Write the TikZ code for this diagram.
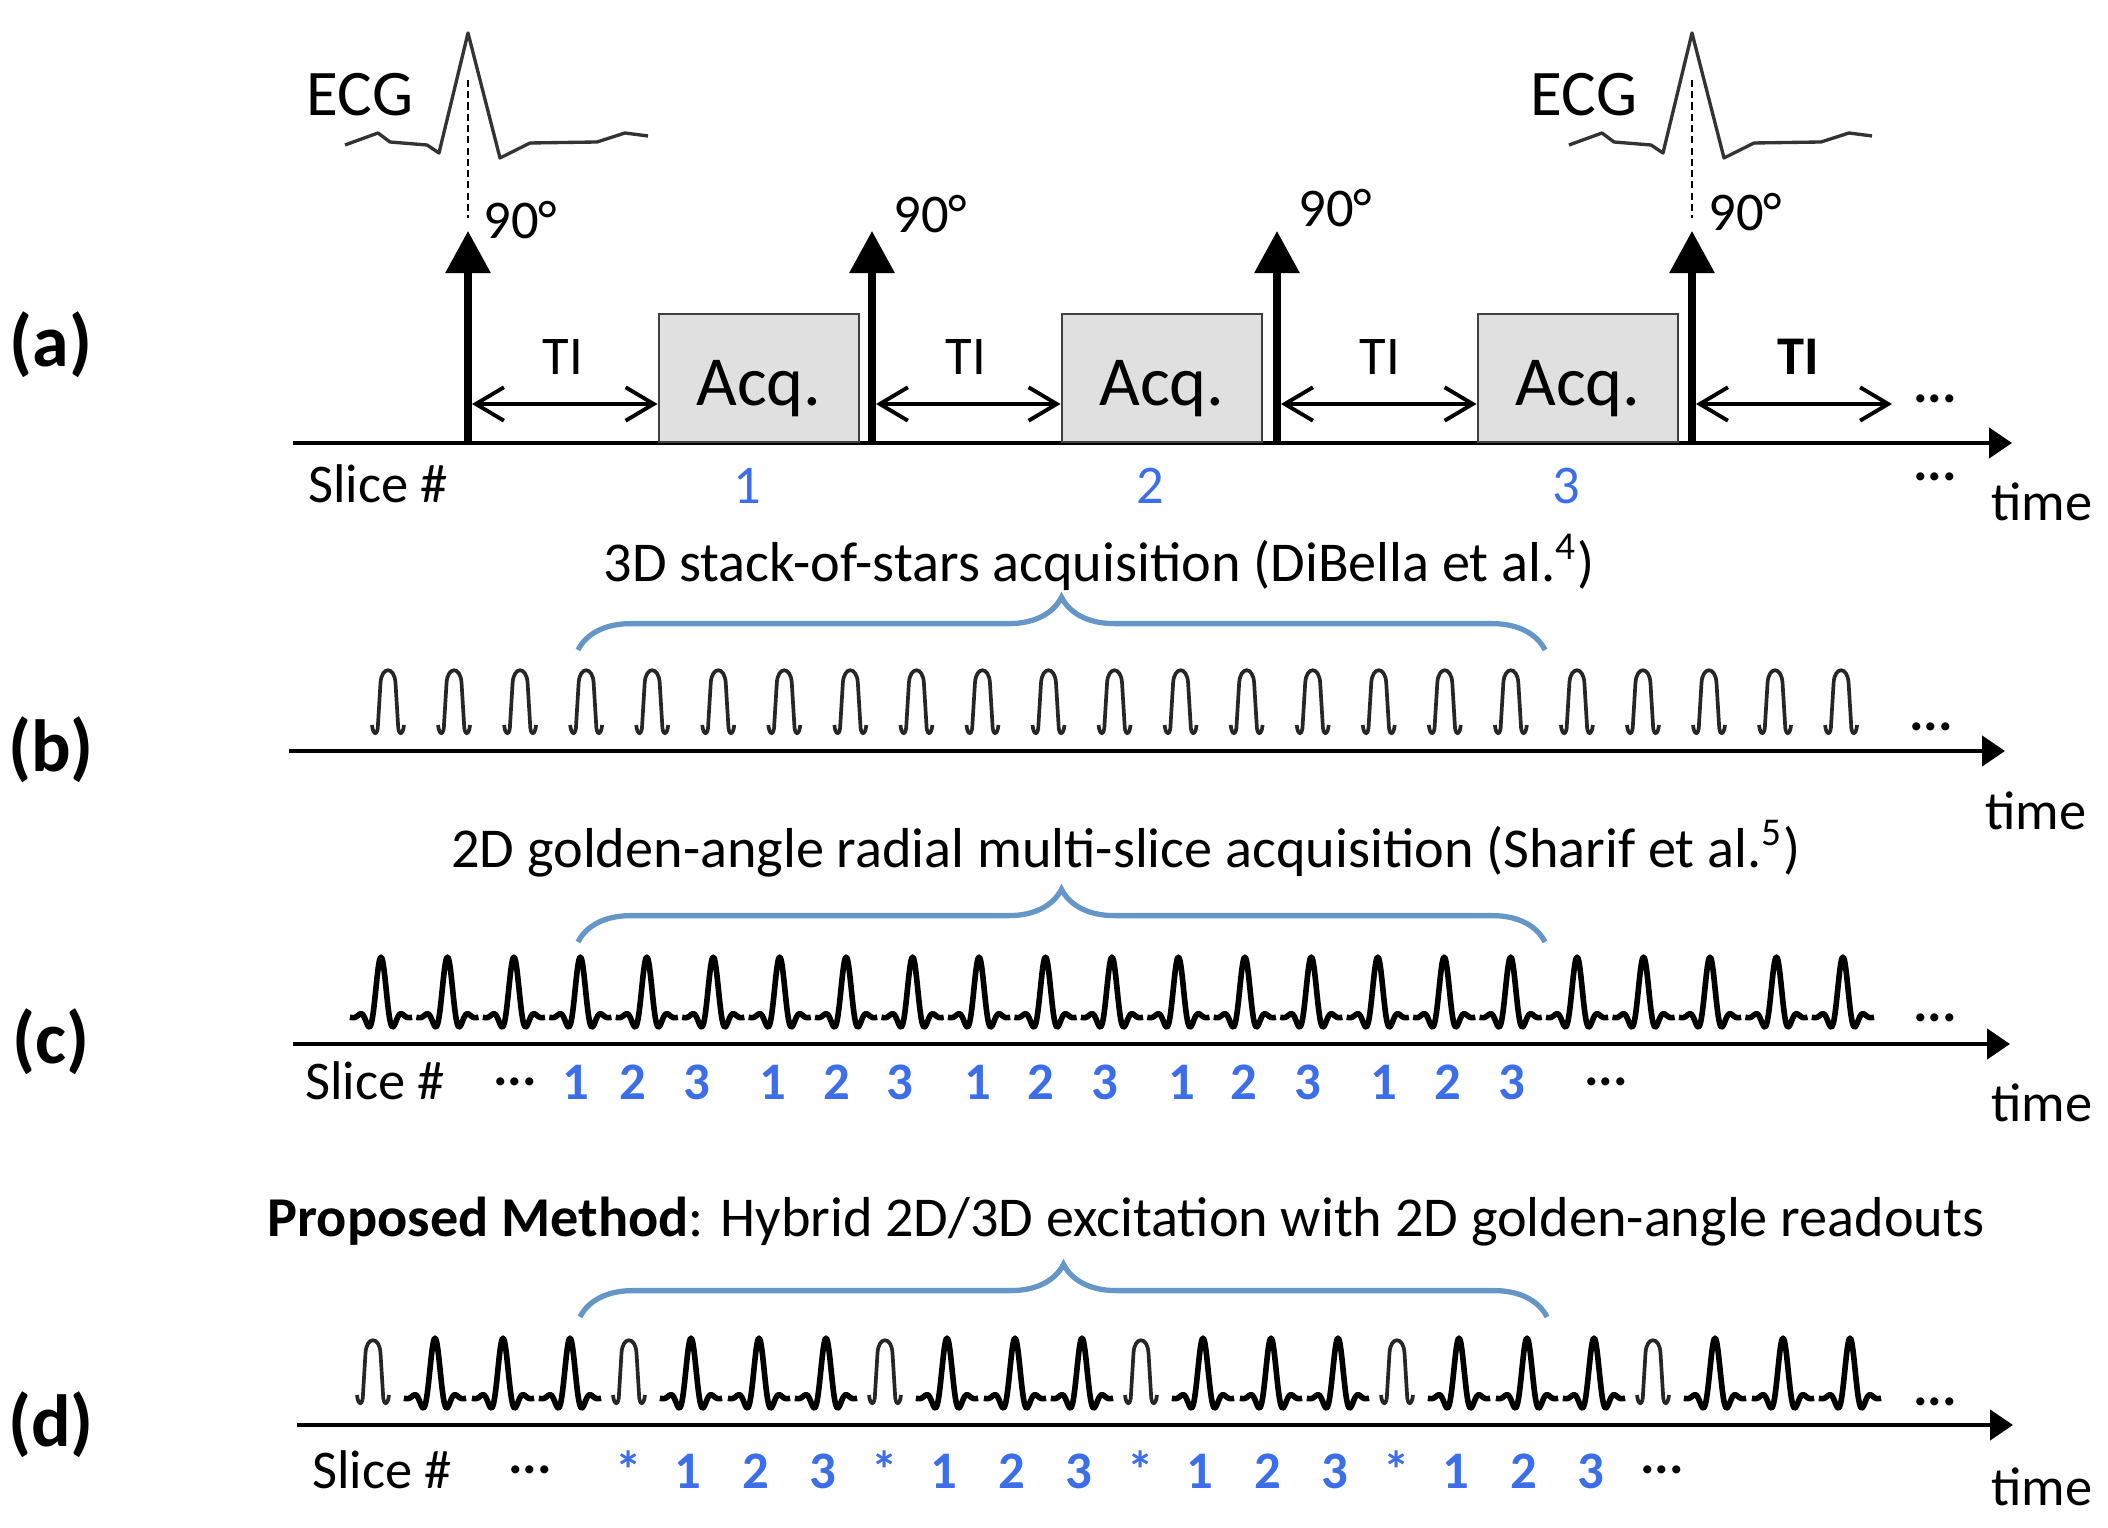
\documentclass[tikz,border=0pt]{standalone}
\usepackage{fontspec}
\setmainfont{Carlito}
\usetikzlibrary{arrows.meta,positioning,decorations.pathreplacing}
\definecolor{slice}{RGB}{60,110,235}
\definecolor{bracecol}{RGB}{100,150,200}
\definecolor{acqfill}{RGB}{224,224,224}

\begin{document}
\begin{tikzpicture}[x=0.01cm,y=-0.01cm,
    lbl/.style={font=\fontsize{15.5}{18}\selectfont,inner sep=0pt},
    head/.style={font=\fontsize{16}{18}\selectfont,inner sep=0pt,anchor=base},
    num/.style={lbl,text=slice},
    bnum/.style={inner sep=0pt,text=slice,font=\fontsize{15}{18}\selectfont\bfseries},
    panel/.style={inner sep=0pt,font=\fontsize{21}{24}\selectfont\bfseries},
    dots/.style={inner sep=0pt,font=\fontsize{15.5}{18}\selectfont\bfseries},
    ecglbl/.style={inner sep=0pt,font=\fontsize{18.5}{20}\selectfont},
    acqbox/.style={draw=black!75,fill=acqfill,line width=0.8pt,minimum width=2cm,minimum height=1.28cm,inner sep=0pt},
    acqlbl/.style={inner sep=0pt,font=\fontsize{20}{24}\selectfont},
    axis/.style={line width=1.2pt,-{Triangle[length=6.5pt,width=8.5pt]}},
    rf/.style={line width=2pt,-{Triangle[length=12pt,width=12.5pt]}},
    tiarrow/.style={line width=1.1pt,line cap=round,line join=round,
      {Straight Barb[length=8pt,width=9.5pt]}-{Straight Barb[length=8pt,width=9.5pt]}},
    trigline/.style={line width=0.7pt,dash pattern=on 2pt off 1.2pt},
    ecg/.style={draw=black!80,line width=0.95pt,line join=round},
    sel/.style={draw=bracecol,line width=1.5pt,decorate,decoration={brace,amplitude=15pt}},
    pulseA/.style={line width=1.6pt,line join=round},
    pulseB/.style={line width=1.05pt,draw=black!85},
    ecgtrace/.pic={\draw[ecg] (-123,112) -- (-90,100) -- (-78,109) -- (-41,112) -- (-29,120) -- (0,0)
      -- (32,125) -- (62,110) -- (129,109) -- (157,100) -- (180,103);},
    rectpulse/.pic={\draw[pulseB] (-16,-3) .. controls (-15,8) and (-10,8) .. (-10,-4) -- (-7.5,-45)
      .. controls (-6.5,-62) and (6.5,-62) .. (7.5,-45) -- (10,-4) .. controls (10,8) and (15,8) .. (16,-3);},
    sincpulse/.pic={\draw[pulseA] plot[domain=-3.7:3.7,samples=74,smooth]
      ({8.4*\x},{-60*sin(180*\x)/(3.14159*\x)*(0.5+0.5*cos(41*\x))});}
  ]
  \useasboundingbox (0,0) rectangle (2108,1528);

  % (a) ECG-triggered inversion recovery
  \node[panel] (pa) at (51,345) {(a)};
  \coordinate (a0) at (293,443);
  \coordinate (a1) at (2012,443);
  \draw[axis] (a0) -- (a1);
  \foreach \n/\cx in {1/759,2/1162,3/1578} {
    \node[acqbox] (acq\n) at (\cx,378) {};
    \node[acqlbl] (acqt\n) at (\cx,389) {Acq.};
    \node[num,anchor=base] (sa\n) at (\cx-12,504) {\n};
  }
  \foreach \n/\px/\lx/\ly in {1/468/483/220,2/872/893/214,3/1277/1298/208,4/1692/1708/212} {
    \coordinate (rfb\n) at (\px,443);
    \coordinate (rft\n) at (\px,231);
    \draw[rf] (rfb\n) -- (rft\n);
    \node[lbl,anchor=west] (deg\n) at (\lx,\ly) {90°};
  }
  \foreach \n/\px in {1/468,4/1692} {
    \pic at (\px,33) {ecgtrace};
    \node[ecglbl] (ecg\n) at (\px-108,95) {ECG};
    \coordinate (trig\n) at (\px,80);
    \draw[trigline] (trig\n) -- ([yshift=0.13cm]rft\n);
  }
  \foreach \n/\sx in {1/472,2/876,3/1281} {
    \coordinate (tis\n) at (\sx,404);
    \draw[tiarrow] (tis\n) -- (tis\n -| acq\n.west);
  }
  \coordinate (tis4) at (1696,404);
  \coordinate (tie4) at (1892,404);
  \draw[tiarrow] (tis4) -- (tie4);
  \node[lbl] (ti1) at (563,357) {TI};
  \node[lbl] (ti2) at (966,357) {TI};
  \node[lbl] (ti3) at (1380,357) {TI};
  \node[lbl,font=\fontsize{15.5}{18}\selectfont\bfseries] (ti4) at (1798,357) {TI};
  \node[dots] (da1) at (1935,399) {...};
  \node[dots] (da2) at (1935,477) {...};
  \node[lbl,anchor=base] (sla) at (378,503) {Slice \#};
  \node[lbl,anchor=base] (ta) at (2042,521) {time};

  % (b) 3D stack-of-stars
  \node[panel] (pb) at (51,750) {(b)};
  \node[head] (hb) at (1099,582) {3D stack-of-stars acquisition (DiBella et al.\textsuperscript{4})};
  \coordinate (bb0) at (578,650);
  \coordinate (bb1) at (1545,650);
  \draw[sel] (bb0) -- (bb1);
  \foreach \i in {0,...,22}
    \pic at ({388+66.05*\i},728) {rectpulse};
  \coordinate (b0) at (289,751);
  \coordinate (b1) at (2005,751);
  \draw[axis] (b0) -- (b1);
  \node[dots] (db) at (1931,727) {...};
  \node[lbl,anchor=base] (tb) at (2036,830) {time};

  % (c) 2D golden-angle multi-slice
  \node[panel] (pc) at (51,1042) {(c)};
  \node[head] (hc) at (1126,868) {2D golden-angle radial multi-slice acquisition (Sharif et al.\textsuperscript{5})};
  \coordinate (cb0) at (578,942);
  \coordinate (cb1) at (1545,942);
  \draw[sel] (cb0) -- (cb1);
  \foreach \i in {0,...,22}
    \pic at ({381+66.45*\i},1017) {sincpulse};
  \coordinate (c0) at (293,1044);
  \coordinate (c1) at (2010,1044);
  \draw[axis] (c0) -- (c1);
  \foreach \sx [count=\k from 0] in {576,633,697,773,837,900,978,1041,1105,1182,1244,1308,1384,1448,1512} {
    \pgfmathtruncatemacro\s{mod(\k,3)+1}
    \node[bnum,anchor=base] (sc\k) at (\sx,1100) {\s};
  }
  \node[dots] (dc1) at (1935,1018) {...};
  \node[dots] (dc2) at (515,1082) {...};
  \node[dots] (dc3) at (1606,1082) {...};
  \node[lbl,anchor=base] (slc) at (375,1100) {Slice \#};
  \node[lbl,anchor=base] (tc) at (2042,1122) {time};

  % (d) proposed hybrid 2D/3D
  \node[panel] (pd) at (51,1425) {(d)};
  \node[head] (hd) at (1126,1237) {\textbf{Proposed Method}: Hybrid 2D/3D excitation with 2D golden-angle readouts};
  \coordinate (db0) at (580,1317);
  \coordinate (db1) at (1547,1317);
  \draw[sel] (db0) -- (db1);
  \foreach \g in {0,...,5} {
    \pic at ({373+256*\g},1398) {rectpulse};
    \foreach \dx in {62,130,197}
      \pic at ({373+256*\g+\dx},1398) {sincpulse};
  }
  \coordinate (d0) at (297,1425);
  \coordinate (d1) at (2013,1425);
  \draw[axis] (d0) -- (d1);
  \foreach \g in {1,...,4} {
    \node[bnum,anchor=base] (sdx\g) at ({373+256*\g},1488) {*};
    \foreach \dx/\s in {62/1,130/2,197/3}
      \node[bnum,anchor=base] (sd\g\s) at ({373+256*\g+\dx-3},1488) {\s};
  }
  \node[dots] (dd1) at (1935,1402) {...};
  \node[dots] (dd2) at (530,1470) {...};
  \node[dots] (dd3) at (1662,1470) {...};
  \node[lbl,anchor=base] (sld) at (382,1488) {Slice \#};
  \node[lbl,anchor=base] (td) at (2042,1505) {time};
\end{tikzpicture}
\end{document}
